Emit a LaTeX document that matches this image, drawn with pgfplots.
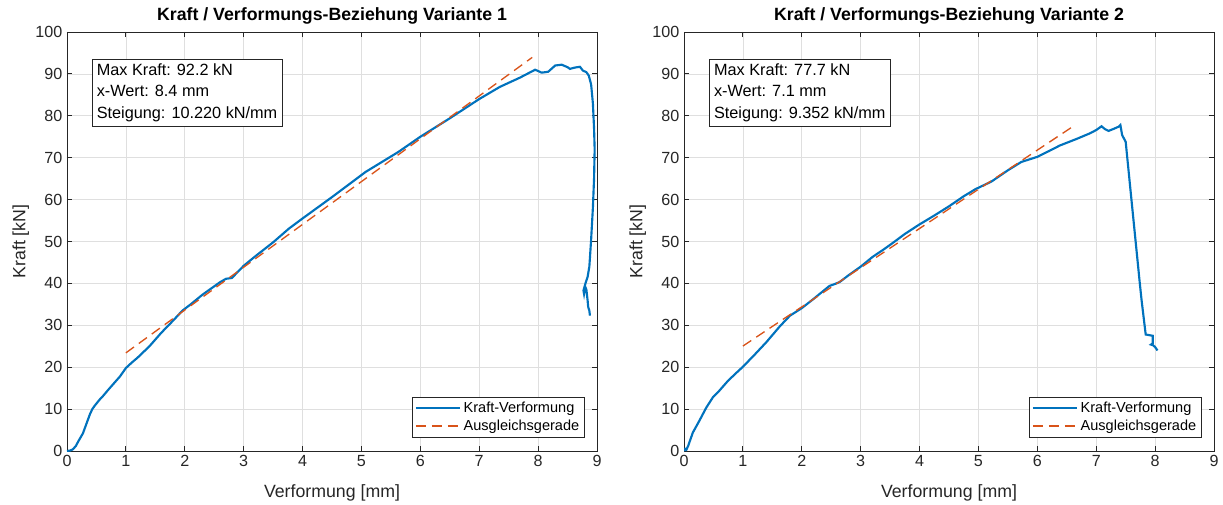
\documentclass[border=0pt]{standalone}
\usepackage{fontspec}
\setmainfont{Liberation Sans}
\usepackage{pgfplots}
\pgfplotsset{compat=1.18}
\definecolor{mblue}{rgb}{0,0.447,0.741}
\definecolor{morange}{rgb}{0.85,0.325,0.098}
\definecolor{axgray}{HTML}{262626}
\definecolor{gridgray}{HTML}{DFDFDF}
\pgfplotsset{
 mystyle/.style={
  scale only axis, width=397.5pt, height=314.25pt,
  anchor=south west,
  xmin=0,xmax=9,ymin=0,ymax=100,
  xtick={0,...,9}, ytick={0,10,...,100},
  grid=major, grid style={gridgray, line width=0.5pt},
  axis line style={axgray, line width=0.6pt},
  tick style={axgray, line width=0.6pt},
  major tick length=3.75pt,
  tick align=inside,
  ticklabel style={font=\fontsize{12.1}{14}\selectfont, text=axgray},
  /pgf/number format/assume math mode=true,
  legend style={at={(rel axis cs:0.977,0.033)}, anchor=south east, draw=axgray, fill=white,
    font=\fontsize{10.9}{13}\selectfont, inner xsep=2pt, inner ysep=1.5pt},
  legend cell align=left,
  legend image code/.code={\draw[##1] (0pt,0pt) -- (33pt,0pt);},
 },
}
\begin{document}
\begin{tikzpicture}[x=0.75pt,y=0.75pt]
\path[use as bounding box] (0,0) rectangle (1223,504);
% ---------- Variante 1
\begin{axis}[mystyle, at={(50.25pt,39.75pt)}]
\addplot[color=mblue, line width=1.6pt] coordinates {
(0,0) (0.05,0.1) (0.1,0.4) (0.15,1.2) (0.2,2.5) (0.27,4.2) (0.33,6.5) (0.39,8.8) (0.43,10) (0.47,10.8)
(0.55,12.2) (0.61,13.1) (0.7,14.6) (0.8,16.2) (0.9,17.8) (1.0,19.8) (1.1,21.1) (1.2,22.3) (1.4,25)
(1.6,28.2) (1.8,31.1) (1.96,33.5) (2.1,35) (2.3,37.3) (2.45,38.8) (2.6,40.3) (2.7,41.1) (2.8,41.3)
(3.0,44.2) (3.2,46.5) (3.5,49.8) (3.77,53.1) (4.0,55.5) (4.5,60.6) (5.07,66.6) (5.63,71.4) (6.0,75)
(6.5,79.4) (7.0,84.0) (7.35,86.9) (7.69,89.1) (7.95,91.0) (8.06,90.3) (8.17,90.5) (8.29,92.0) (8.4,92.2)
(8.5,91.6) (8.54,91.2) (8.62,91.5) (8.71,91.7) (8.76,90.8) (8.82,90.4) (8.86,89.6) (8.9,87.5) (8.93,83)
(8.95,77) (8.96,72) (8.95,65) (8.93,58) (8.90,50.4) (8.87,44) (8.84,41.5) (8.81,40.3) (8.77,38.3)
(8.78,37.5) (8.80,39.2) (8.82,38.5) (8.84,36) (8.85,34.4) (8.87,33.5) (8.88,32.3)
};
\addlegendentry{Kraft-Verformung}
\addplot[color=morange, line width=1pt, dash pattern=on 7.5pt off 4.5pt] coordinates {(1,23.42) (7.9,93.94)};
\addlegendentry{Ausgleichsgerade}
\end{axis}
% ---------- Variante 2
\begin{axis}[mystyle, at={(513pt,39.75pt)}]
\addplot[color=mblue, line width=1.6pt] coordinates {
(0,0) (0.02,0.5) (0.04,0.3) (0.07,1.2) (0.15,4.4) (0.26,7.2) (0.38,10.4) (0.49,12.8) (0.6,14.4)
(0.75,16.8) (0.9,18.8) (1.0,20.1) (1.2,23) (1.4,26) (1.63,29.8) (1.8,32.3) (2.0,34.1) (2.2,36.3)
(2.47,39.4) (2.55,39.8) (2.64,40.3) (2.8,42) (3.0,44) (3.2,46.3) (3.4,48.2) (3.53,49.5) (3.75,51.8)
(3.99,54.0) (4.25,56.2) (4.5,58.4) (4.75,60.8) (4.95,62.5) (5.22,64.3) (5.5,67) (5.73,69) (6.0,70.2)
(6.2,71.6) (6.38,72.9) (6.67,74.5) (6.89,75.8) (7.0,76.6) (7.09,77.5) (7.15,76.8) (7.21,76.4)
(7.3,76.9) (7.38,77.4) (7.41,77.8) (7.44,75.4) (7.5,73.8) (7.74,40) (7.77,36) (7.84,27.8) (7.96,27.5)
(7.96,25.7) (7.93,25.4) (7.97,25.2) (8.0,24.8) (8.04,24)
};
\addlegendentry{Kraft-Verformung}
\addplot[color=morange, line width=1pt, dash pattern=on 7.5pt off 4.5pt] coordinates {(1,25.05) (6.63,77.70)};
\addlegendentry{Ausgleichsgerade}
\end{axis}
% ---------- titles and labels
\node[anchor=base, font=\fontsize{13.3}{16}\selectfont\bfseries, text=black] at (332,483.5) {Kraft / Verformungs-Beziehung Variante 1};
\node[anchor=base, font=\fontsize{13.3}{16}\selectfont\bfseries, text=black] at (949,483.5) {Kraft / Verformungs-Beziehung Variante 2};
\node[anchor=base, font=\fontsize{13.3}{16}\selectfont, text=axgray] at (332,6.5) {Verformung [mm]};
\node[anchor=base, font=\fontsize{13.3}{16}\selectfont, text=axgray] at (949,6.5) {Verformung [mm]};
\node[anchor=base, rotate=90, font=\fontsize{13.3}{16}\selectfont, text=axgray] at (25.4,262.5) {Kraft [kN]};
\node[anchor=base, rotate=90, font=\fontsize{13.3}{16}\selectfont, text=axgray] at (642.4,262.5) {Kraft [kN]};
% ---------- annotation boxes
\node[draw=axgray, line width=0.6pt, fill=white, anchor=north west, align=left, inner xsep=3.5pt, inner ysep=3pt,
  font=\fontsize{12.2}{16.35}\selectfont] at (91.7,445) {Max Kraft: 92.2 kN\\x-Wert: 8.4 mm\\Steigung: 10.220 kN/mm};
\node[draw=axgray, line width=0.6pt, fill=white, anchor=north west, align=left, inner xsep=3.5pt, inner ysep=3pt,
  font=\fontsize{12.2}{16.35}\selectfont] at (709,445) {Max Kraft: 77.7 kN\\x-Wert: 7.1 mm\\Steigung: 9.352 kN/mm};
\end{tikzpicture}
\end{document}
